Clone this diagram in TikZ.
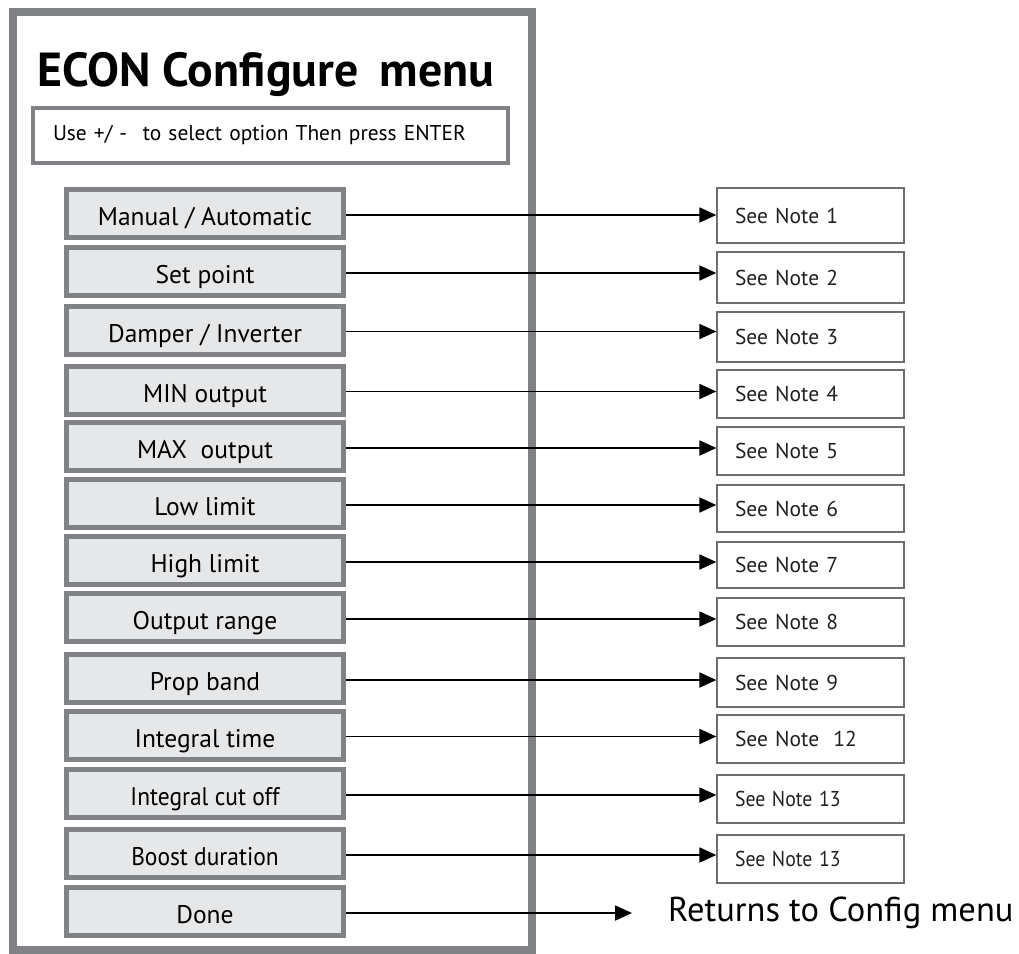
\documentclass[tikz,border=0pt]{standalone}
\usepackage{fontspec}
\setmainfont{PT Sans}
\usetikzlibrary{arrows.meta}
\definecolor{framegray}{HTML}{808285}
\definecolor{boxfill}{HTML}{E6E7E8}
\definecolor{notegray}{HTML}{6D6E71}
\definecolor{notetext}{HTML}{231F20}
\newcommand{\narrowtext}[1]{\scalebox{0.92}[1]{#1}}
\begin{document}
\begin{tikzpicture}[x=1pt,y=-1pt,
  frame/.style={draw=framegray, line width=8pt, inner sep=0pt},
  instrbox/.style={draw=framegray, line width=4.5pt, minimum height=55pt, text width=435pt, inner xsep=20pt, inner ysep=0pt, align=left, font=\fontsize{21.4}{25}\selectfont},
  menubox/.style={draw=framegray, line width=5pt, fill=boxfill, minimum width=277pt, minimum height=48pt, inner sep=0pt, text height=24.5pt, text depth=0pt, font=\fontsize{25.5}{30}\selectfont},
  notebox/.style={draw=notegray, line width=1.3pt, minimum height=48pt, text width=151pt, inner xsep=18pt, inner ysep=0pt, align=left, text=notetext, font=\fontsize{21.5}{26}\selectfont},
  conn/.style={line width=1.8pt, -{Triangle[length=17pt,width=15pt]}}
]
\useasboundingbox (0,0) rectangle (1019,953);
\node[frame, minimum width=519pt, minimum height=938pt] (frame) at (272.5,481) {};
\node[anchor=base west, font=\bfseries\fontsize{47.8}{56}\selectfont, inner sep=0pt] (title) at (37,86) {ECON Configure\hspace{0.45em}menu};
\node[instrbox] (instr) at (270.5,135.5) {Use +/ -\hspace{0.4em} to select option Then press ENTER};

\node[menubox] (m1) at (205,213.5) {Manual / Automatic};
\node[menubox] (m2) at (205,271.5) {Set point};
\node[menubox] (m3) at (205,330) {Damper / Inverter};
\node[menubox] (m4) at (205,390) {MIN output};
\node[menubox] (m5) at (205,446.5) {MAX\ \ output};
\node[menubox] (m6) at (205,503.5) {Low limit};
\node[menubox] (m7) at (205,560.5) {High limit};
\node[menubox] (m8) at (205,617.5) {Output range};
\node[menubox] (m9) at (205,678.5) {Prop band};
\node[menubox] (m10) at (205,735) {Integral time};
\node[menubox] (m11) at (205,793.5) {\narrowtext{Integral cut off}};
\node[menubox] (m12) at (205,853.5) {\narrowtext{Boost duration}};
\node[menubox] (m13) at (205,911) {Done};

\node[notebox, minimum height=55pt] (n1) at (810.5,215.5) {See Note 1};
\node[notebox, minimum height=51pt] (n2) at (810.5,277.5) {See Note 2};
\node[notebox, minimum height=50pt] (n3) at (810.5,337) {See Note 3};
\node[notebox] (n4) at (810.5,394) {See Note 4};
\node[notebox] (n5) at (810.5,451) {See Note 5};
\node[notebox, minimum height=47pt] (n6) at (810.5,508.5) {See Note 6};
\node[notebox, minimum height=46pt] (n7) at (810.5,565) {See Note 7};
\node[notebox] (n8) at (810.5,622) {See Note 8};
\node[notebox, minimum height=49pt] (n9) at (810.5,682.5) {See Note 9};
\node[notebox] (n10) at (810.5,739) {See Note\ \ 12};
\node[notebox] (n11) at (810.5,799) {\narrowtext{See Note 13}};
\node[notebox] (n12) at (810.5,859) {\narrowtext{See Note 13}};

\foreach \i in {1,...,12}{
  \draw[conn] ([yshift=-1.5pt]m\i.east) -- ([yshift=-1.5pt]m\i.east -| n\i.west);
}
\coordinate (ret) at (632,909);
\node[anchor=west, inner sep=0pt, font=\fontsize{34.5}{40}\selectfont] (rettext) at (668,913) {Returns to Config menu};
\draw[conn] ([yshift=-2pt]m13.east) -- ([yshift=-2pt]m13.east -| ret);
\end{tikzpicture}
\end{document}
